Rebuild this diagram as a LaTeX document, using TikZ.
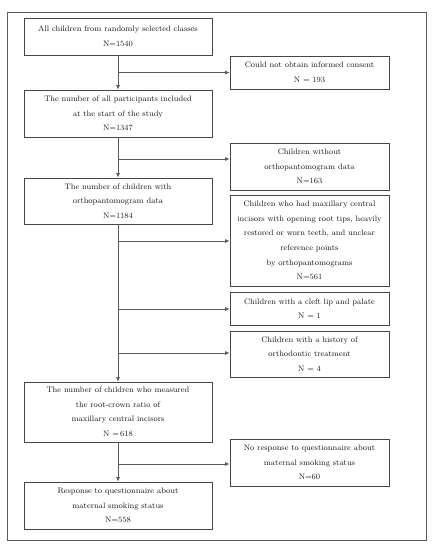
\documentclass[tikz,border=0pt]{standalone}
\usetikzlibrary{arrows.meta}
\definecolor{boxline}{RGB}{70,70,70}
\definecolor{conn}{RGB}{90,90,90}
\begin{document}
\begin{tikzpicture}[x=1bp,y=-1bp,
  box/.style={draw=boxline, line width=0.8bp, align=center, inner sep=0pt,
    font=\fontsize{8}{14.6}\selectfont, text=black!90},
  lbox/.style={box, minimum width=188bp},
  rbox/.style={box, minimum width=159bp},
  link/.style={draw=conn, line width=0.8bp},
  arr/.style={link, -{Latex[length=4.5bp,width=4bp]}}]
\useasboundingbox (0,0) rectangle (435,550);
\draw[draw=conn, line width=0.9bp] (7,12) rectangle (426,540);
\node[lbox, minimum height=37bp] (b1) at (118,36.5) {All children from randomly selected classes\\N=1540};
\node[lbox, minimum height=47bp] (b2) at (118,113.5) {The number of all participants included\\at the start of the study\\N=1347};
\node[lbox, minimum height=46bp] (b3) at (118,201) {The number of children with\\orthopantomogram data\\N=1184};
\node[lbox, minimum height=60bp] (b4) at (118,412) {The number of children who measured\\the root-crown ratio of\\maxillary central incisors\\N =\,618};
\node[lbox, minimum height=47bp] (b5) at (118,505.5) {Response to questionnaire about\\maternal smoking status\\N=558};
\node[rbox, minimum height=33bp] (r1) at (309.5,72.5) {Could not obtain informed consent\\N = 193};
\node[rbox, minimum height=47bp] (r2) at (309.5,166.5) {Children without\\orthopantomogram data\\N=163};
\node[rbox, minimum height=91bp] (r3) at (309.5,240.5) {Children who had maxillary central\\incisors with opening root tips, heavily\\restored or worn teeth, and unclear\\reference points\\by orthopantomograms\\N=561};
\node[rbox, minimum height=33bp] (r4) at (309.5,308.5) {Children with a cleft lip and palate\\N = 1};
\node[rbox, minimum height=46bp] (r5) at (309.5,354) {Children with a history of\\orthodontic treatment\\N = 4};
\node[rbox, minimum height=47bp] (r6) at (309.5,462.5) {No response to questionnaire about\\maternal smoking status\\N=60};
\coordinate (c1) at (118,72.5);
\coordinate (c2) at (118,159);
\coordinate (c3) at (118,241);
\coordinate (c4) at (118,309);
\coordinate (c5) at (118,353);
\coordinate (c6) at (118,464);
\draw[arr] (b1) -- (b2);
\draw[arr] (b2) -- (b3);
\draw[arr] (b3) -- (b4);
\draw[arr] (b4) -- (b5);
\draw[arr] (c1) -- (c1 -| r1.west);
\draw[arr] (c2) -- (c2 -| r2.west);
\draw[arr] (c3) -- (c3 -| r3.west);
\draw[arr] (c4) -- (c4 -| r4.west);
\draw[arr] (c5) -- (c5 -| r5.west);
\draw[arr] (c6) -- (c6 -| r6.west);
\end{tikzpicture}
\end{document}
